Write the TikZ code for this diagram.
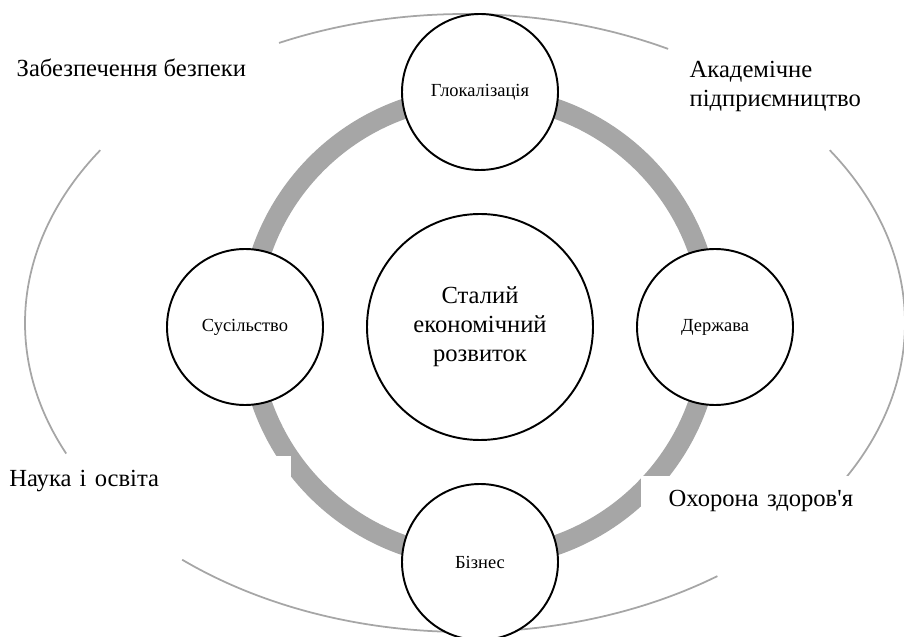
\documentclass[tikz,border=0pt]{standalone}
\usepackage{fontspec}
\setmainfont{Liberation Serif}[Ligatures=TeXOff]
\definecolor{ringgray}{HTML}{A6A6A6}

\begin{document}
\begin{tikzpicture}[thick,
    hub/.style={circle, draw=black, line width=1.1pt, fill=white, minimum size=4.52cm,
        inner sep=0pt, align=center, font=\fontsize{14}{16.5}\selectfont},
    sat/.style={circle, draw=black, line width=1.1pt, fill=white, minimum size=3.12cm,
        inner sep=0pt, font=\fontsize{10.5}{12}\selectfont},
    sidetext/.style={inner sep=0pt, anchor=base west, align=left,
        font=\fontsize{14}{16.5}\selectfont},
    notebox/.style={fill=white, inner xsep=0.56cm, inner ysep=0.3cm, text width=5.08cm,
        align=left, font=\fontsize{14}{16.5}\selectfont}]

        \def \rad {4.7}
        \def \ringrad {4.62}

        \useasboundingbox (-9.6,-6.2) rectangle (8.48,6.54);
        \clip (-9.6,-6.2) rectangle (8.48,6.54);

        \coordinate (mid) at (0,0);
        \coordinate (el) at (-0.3,0.08);

        % Draw outer arcs
        \foreach \s/\e in {62.5/115, 146/205, 230/305, -30/34} {
            \draw[ringgray, line width=1pt] (el) ++(\s:8.8 and 6.18)
                arc[start angle=\s, end angle=\e, x radius=8.8, y radius=6.18];
        }

        % Draw ring
        \draw[ringgray, line width=0.4cm] (mid) circle (\ringrad);

        % Draw labels
        \node[sidetext] (safety) at (-9.28,5.0) {Забезпечення безпеки};
        \node[sidetext, text width=5cm] (academ) at (4.18,4.98) {Академічне\\підприємництво};
        \node[notebox, anchor=north east] (science) at (-3.76,-2.56) {Наука і освіта};
        \node[notebox, anchor=north west] (health) at (3.2,-2.96) {Охорона здоров'я};

        % Draw circles
        \node[hub] (core) at (mid) {Сталий\\економічний\\розвиток};
        \foreach \ang/\name/\txt in {90/glocal/Глокалізація, 0/state/Держава,
                180/society/Сусільство, 270/business/Бізнес} {
            \node[sat] (\name) at (\ang:\rad) {\txt};
        }

\end{tikzpicture}
\end{document}
